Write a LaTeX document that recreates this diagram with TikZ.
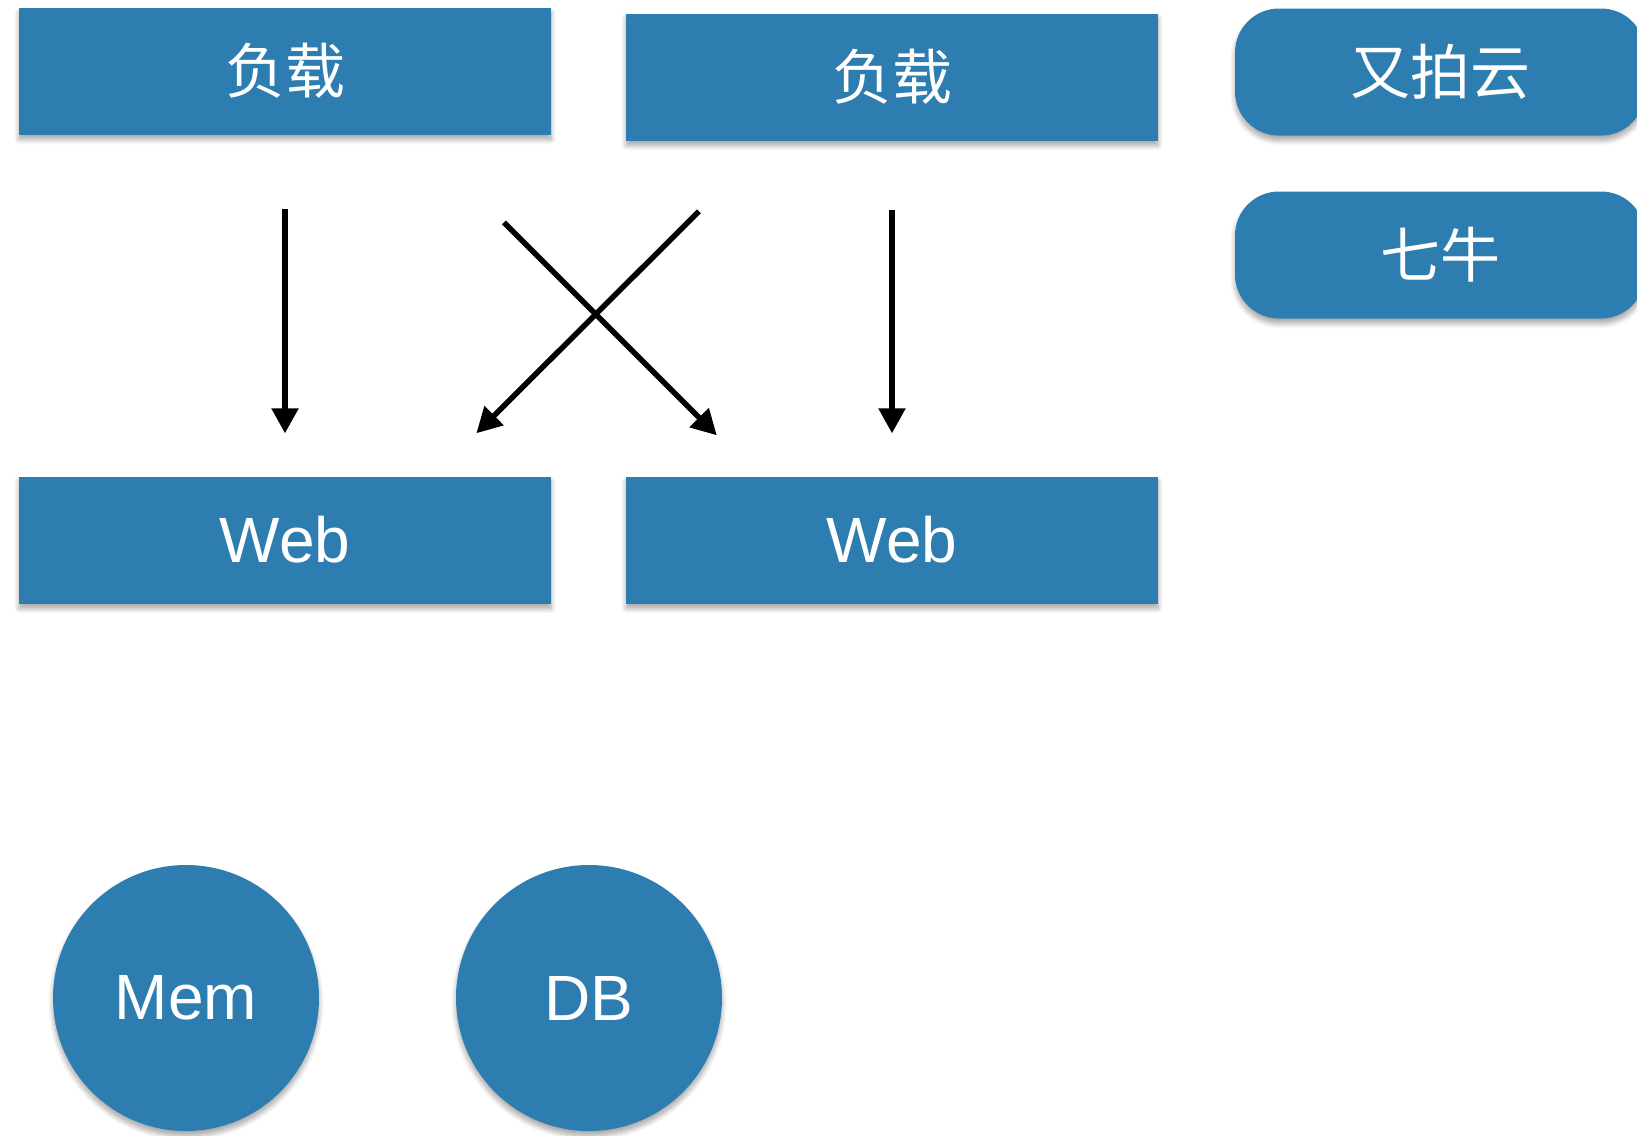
\documentclass[tikz,border=0pt]{standalone}
\usepackage{fontspec}
\setmainfont{Liberation Sans}
\newfontfamily\cjk{Noto Sans CJK SC}
\usepackage{tikz}
\usetikzlibrary{calc}
\usetikzlibrary{arrows.meta}
\usetikzlibrary{shadows.blur}
\definecolor{cloudblue}{RGB}{46, 125, 176}

\tikzset{
    box/.style   = {fill=cloudblue, text=white, inner sep=0pt,
                    minimum width=532pt, minimum height=127pt,
                    blur shadow={shadow xshift=0pt, shadow yshift=-5pt, shadow blur radius=5pt,
                                 shadow blur steps=8, shadow opacity=35}},
    cdn/.style   = {box, rounded corners=44pt, minimum width=410pt, minimum height=127pt},
    store/.style = {box, circle, minimum size=266pt},
    zh/.style    = {font=\cjk\fontsize{60}{64}\selectfont},
    en/.style    = {font=\fontsize{64}{68}\selectfont},
    arr/.style   = {line width=5.5pt, -{Triangle[length=25pt, width=26pt]}}
}

\begin{document}
\begin{tikzpicture}[x=1pt, y=-1pt]
            % Frame
            \useasboundingbox (0,0) rectangle (1637,1135);
            \clip              (0,0) rectangle (1637,1135);
            % Load balancers
            \node[box, zh]   (lb1)   at ( 285,  71) {负载};
            \node[box, zh]   (lb2)   at ( 892,  77) {负载};
            % Web servers
            \node[box, en]   (web1)  at ( 285, 540) {Web};
            \node[box, en]   (web2)  at ( 892, 540) {Web};
            % CDN
            \node[cdn, zh]   (upyun) at (1440,  72) {又拍云};
            \node[cdn, zh]   (qiniu) at (1440, 255) {七牛};
            % Storage
            \node[store, en] (mem)   at ( 186, 998) {Mem};
            \node[store, en] (db)    at ( 589, 998) {DB};
            % Straight arrows
            \draw[arr, shorten <=74pt, shorten >=43pt] (lb1.south) -- (web1.north);
            \draw[arr, shorten <=69pt, shorten >=43pt] (lb2.south) -- (web2.north);
            % Crossed arrows
            \draw[arr, shorten <=100pt, shorten >=61pt]
                 ($(lb2.south west)+(144,0)$) -- ($(web1.north east)+(-118,0)$);
            \draw[arr, shorten <=124pt, shorten >=58pt]
                 ($(lb1.south east)+(-135,0)$) -- ($(web2.north west)+(132,0)$);
\end{tikzpicture}
\end{document}
